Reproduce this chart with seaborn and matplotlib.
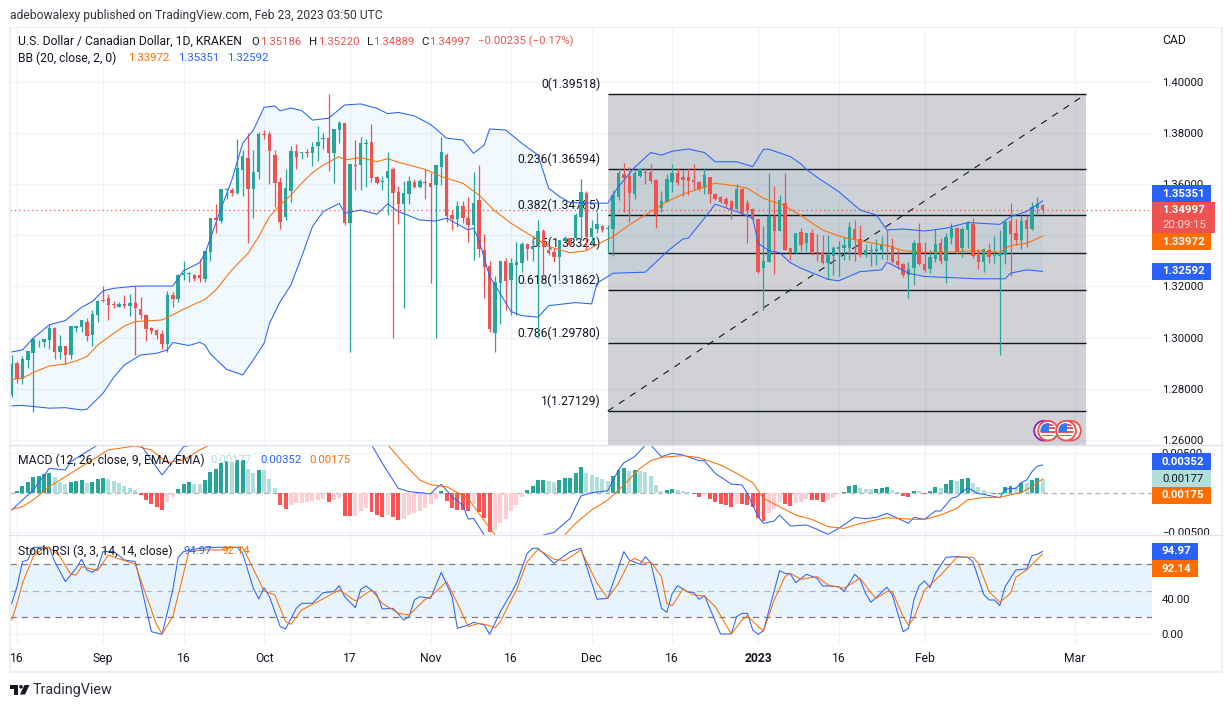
import numpy as np
import pandas as pd
import matplotlib
matplotlib.use("Agg")
import matplotlib.pyplot as plt
import seaborn as sns
from matplotlib.lines import Line2D
from matplotlib.patches import Rectangle, Circle, Polygon
from matplotlib.transforms import IdentityTransform

# Daily candles, first bar is 2022-08-15
start_date = "2022-08-15"
opens = [1.2776,1.2902,1.2839,1.2913,1.2941,1.2985,1.2983,1.2991,1.3038,1.2945,
1.2966,1.2932,1.3039,1.3042,1.3061,1.3011,1.3089,1.3147,1.3155,1.3132,
1.3121,1.3130,1.3125,1.3134,1.3112,1.3089,1.3038,1.3030,1.3014,1.2977,
1.3167,1.3153,1.3243,1.3250,1.3245,1.3245,1.3231,1.3336,1.3469,1.3456,
1.3578,1.3578,1.3566,1.3657,1.3703,1.3583,1.3648,1.3797,1.3797,1.3715,
1.3609,1.3473,1.3574,1.3730,1.3724,1.3727,1.3722,1.3750,1.3778,1.3781,
1.3724,1.3812,1.3840,1.3449,1.3675,1.3675,1.3759,1.3765,1.3628,1.3610,
1.3625,1.3660,1.3570,1.3523,1.3561,1.3610,1.3589,1.3609,1.3604,1.3597,
1.3667,1.3715,1.3480,1.3464,1.3515,1.3468,1.3441,1.3538,1.3343,1.3280,
1.3020,1.3215,1.3299,1.3226,1.3284,1.3292,1.3366,1.3347,1.3361,1.3417,
1.3343,1.3335,1.3316,1.3378,1.3389,1.3389,1.3472,1.3566,1.3392,1.3425,
1.3437,1.3424,1.3425,1.3549,1.3640,1.3632,1.3562,1.3632,1.3648,1.3648,
1.3617,1.3506,1.3531,1.3609,1.3644,1.3628,1.3628,1.3617,1.3609,1.3586,
1.3628,1.3562,1.3549,1.3541,1.3534,1.3503,1.3581,1.3527,1.3503,1.3464,
1.3273,1.3296,1.3476,1.3417,1.3527,1.3351,1.3331,1.3413,1.3369,1.3409,
1.3336,1.3335,1.3291,1.3319,1.3347,1.3351,1.3351,1.3425,1.3386,1.3323,
1.3339,1.3339,1.3343,1.3362,1.3359,1.3300,1.3288,1.3245,1.3273,1.3370,
1.3288,1.3269,1.3308,1.3370,1.3300,1.3390,1.3429,1.3351,1.3421,1.3445,
1.3323,1.3295,1.3343,1.3318,1.3319,1.3323,1.3456,1.3409,1.3382,1.3460,1.3424,1.3507,1.3519]
closes = [1.2897,1.2839,1.2915,1.2947,1.2994,1.2987,1.2994,1.3038,1.2945,1.2968,
1.2932,1.3044,1.3044,1.3069,1.3007,1.3093,1.3145,1.3144,1.3129,1.3128,
1.3132,1.3123,1.3134,1.3117,1.3089,1.3035,1.3026,1.3012,1.2977,1.3167,
1.3153,1.3245,1.3253,1.3253,1.3229,1.3233,1.3338,1.3468,1.3460,1.3581,
1.3581,1.3567,1.3664,1.3711,1.3583,1.3648,1.3797,1.3793,1.3728,1.3606,
1.3454,1.3584,1.3730,1.3707,1.3726,1.3724,1.3746,1.3765,1.3781,1.3724,
1.3815,1.3840,1.3447,1.3679,1.3673,1.3761,1.3763,1.3625,1.3605,1.3613,
1.3652,1.3566,1.3523,1.3566,1.3613,1.3591,1.3613,1.3606,1.3591,1.3674,
1.3726,1.3477,1.3463,1.3515,1.3468,1.3441,1.3527,1.3347,1.3278,1.3034,
1.3218,1.3299,1.3222,1.3292,1.3296,1.3366,1.3347,1.3359,1.3417,1.3353,
1.3331,1.3314,1.3381,1.3390,1.3363,1.3480,1.3570,1.3392,1.3428,1.3445,
1.3421,1.3429,1.3557,1.3644,1.3625,1.3565,1.3644,1.3660,1.3644,1.3613,
1.3480,1.3534,1.3621,1.3644,1.3605,1.3617,1.3613,1.3609,1.3582,1.3636,
1.3562,1.3542,1.3531,1.3523,1.3505,1.3581,1.3488,1.3501,1.3464,1.3257,
1.3300,1.3476,1.3417,1.3538,1.3343,1.3331,1.3409,1.3362,1.3409,1.3335,
1.3332,1.3292,1.3323,1.3351,1.3355,1.3362,1.3433,1.3386,1.3323,1.3343,
1.3343,1.3347,1.3366,1.3359,1.3296,1.3284,1.3245,1.3269,1.3370,1.3288,
1.3265,1.3316,1.3366,1.3300,1.3394,1.3429,1.3335,1.3425,1.3449,1.3319,
1.3296,1.3347,1.3316,1.3323,1.3331,1.3452,1.3405,1.3382,1.3456,1.3425,1.3511,1.3523,1.3500]
highs = [1.2932,1.2909,1.2928,1.2947,1.2998,1.2991,1.2994,1.3050,1.3043,1.3011,
1.2966,1.3044,1.3046,1.3069,1.3077,1.3108,1.3147,1.3202,1.3170,1.3144,
1.3138,1.3167,1.3170,1.3200,1.3158,1.3091,1.3040,1.3033,1.3030,1.3184,
1.3179,1.3249,1.3300,1.3258,1.3249,1.3306,1.3340,1.3468,1.3523,1.3581,
1.3584,1.3584,1.3777,1.3734,1.3799,1.3734,1.3804,1.3812,1.3808,1.3734,
1.3628,1.3660,1.3750,1.3757,1.3726,1.3737,1.3765,1.3828,1.3801,1.3952,
1.3816,1.3846,1.3840,1.3679,1.3773,1.3785,1.3777,1.3836,1.3632,1.3632,
1.3726,1.3668,1.3593,1.3613,1.3632,1.3619,1.3621,1.3658,1.3644,1.3675,
1.3785,1.3722,1.3499,1.3534,1.3534,1.3549,1.3648,1.3675,1.3405,1.3300,
1.3241,1.3299,1.3312,1.3312,1.3374,1.3374,1.3370,1.3398,1.3460,1.3425,
1.3362,1.3351,1.3382,1.3398,1.3391,1.3486,1.3621,1.3574,1.3460,1.3491,
1.3441,1.3441,1.3578,1.3664,1.3682,1.3668,1.3658,1.3664,1.3664,1.3679,
1.3622,1.3574,1.3640,1.3679,1.3662,1.3656,1.3664,1.3678,1.3613,1.3662,
1.3628,1.3566,1.3552,1.3550,1.3538,1.3601,1.3585,1.3538,1.3507,1.3464,
1.3437,1.3644,1.3593,1.3558,1.3644,1.3351,1.3409,1.3429,1.3409,1.3425,
1.3405,1.3402,1.3402,1.3359,1.3378,1.3394,1.3452,1.3460,1.3441,1.3366,
1.3366,1.3385,1.3398,1.3421,1.3390,1.3343,1.3292,1.3296,1.3382,1.3447,
1.3374,1.3343,1.3425,1.3390,1.3408,1.3449,1.3433,1.3434,1.3456,1.3468,
1.3347,1.3351,1.3370,1.3398,1.3421,1.3460,1.3527,1.3464,1.3480,1.3480,1.3531,1.3550,1.3522]
lows = [1.2769,1.2824,1.2819,1.2880,1.2711,1.2965,1.2965,1.2955,1.2918,1.2918,
1.2896,1.2915,1.3022,1.3021,1.2988,1.2969,1.3063,1.3141,1.3067,1.3117,
1.3119,1.3117,1.3085,1.2934,1.3074,1.2988,1.3014,1.2994,1.2957,1.2945,
1.3121,1.3141,1.3224,1.3219,1.3223,1.3219,1.3218,1.3300,1.3409,1.3450,
1.3544,1.3552,1.3562,1.3552,1.3372,1.3469,1.3621,1.3777,1.3601,1.3510,
1.3425,1.3460,1.3532,1.3660,1.3699,1.3707,1.3671,1.3691,1.3738,1.3652,
1.3605,1.3760,1.3439,1.2944,1.3578,1.3578,1.3589,1.3610,1.3601,1.3578,
1.3480,1.2999,1.3445,1.3116,1.3523,1.3587,1.3585,1.3544,1.3215,1.2999,
1.3597,1.3454,1.3421,1.3433,1.3447,1.3374,1.3304,1.3316,1.3154,1.3022,
1.2944,1.3054,1.3108,1.3089,1.3089,1.3257,1.3304,1.3300,1.2999,1.3237,
1.3323,1.3296,1.3226,1.3373,1.3360,1.3382,1.3382,1.3343,1.3362,1.3409,
1.3413,1.3330,1.3319,1.3538,1.3491,1.3452,1.3541,1.3628,1.3601,1.3605,
1.3429,1.3491,1.3531,1.3570,1.3597,1.3554,1.3558,1.3578,1.3574,1.3562,
1.3527,1.3538,1.3525,1.3510,1.3464,1.3503,1.3484,1.3370,1.3460,1.3253,
1.3108,1.3296,1.3249,1.3417,1.3343,1.3304,1.3327,1.3339,1.3339,1.3323,
1.3300,1.3288,1.3230,1.3245,1.3241,1.3304,1.3304,1.3300,1.3314,1.3314,
1.3280,1.3284,1.3308,1.3304,1.3292,1.3269,1.3239,1.3154,1.3206,1.3284,
1.3257,1.3253,1.3296,1.3288,1.3215,1.3366,1.3327,1.3316,1.3351,1.3312,
1.3269,1.3257,1.3292,1.3292,1.2932,1.3288,1.3241,1.3362,1.3347,1.3355,1.3421,1.3480,1.3489]

# Bollinger bands, read at the bars where the line bends
upper_days = [0,2,4,7,10,13,15,17,19,23,25,30,32,35,36,39,41,43,45,47,49,50,52,54,56,59,62,65,68,70,72,75,78,81,84,86,88,89,92,95,98,100,102,104,109,111,113,116,119,121,123,126,129,131,135,138,140,141,145,147,148,150,154,158,161,163,166,170,174,178,184,186,189,192]
upper_band = [1.2944,1.2952,1.2998,1.3050,1.3067,1.3119,1.3141,1.3183,1.3193,1.3201,1.3202,1.3202,1.3262,1.3293,1.3330,1.3506,1.3617,1.3760,1.3812,1.3901,1.3906,1.3887,1.3898,1.3888,1.3851,1.3858,1.3910,1.3914,1.3897,1.3876,1.3881,1.3867,1.3834,1.3780,1.3773,1.3721,1.3754,1.3816,1.3812,1.3760,1.3714,1.3584,1.3552,1.3528,1.3526,1.3526,1.3591,1.3666,1.3724,1.3714,1.3729,1.3738,1.3724,1.3688,1.3688,1.3669,1.3737,1.3737,1.3708,1.3679,1.3658,1.3627,1.3571,1.3499,1.3480,1.3421,1.3425,1.3417,1.3428,1.3450,1.3443,1.3473,1.3493,1.3535]
basis_days = [0,2,4,7,10,12,14,16,19,21,23,28,32,36,38,41,44,46,48,50,52,54,56,58,61,62,65,68,70,72,77,80,84,87,90,93,97,100,104,107,110,112,115,118,122,125,128,131,135,137,140,144,147,151,155,159,163,166,170,175,179,184,186,189,192]
basis_band = [1.2837,1.2841,1.2864,1.2889,1.2897,1.2909,1.2926,1.2971,1.3017,1.3046,1.3063,1.3069,1.3111,1.3150,1.3186,1.3265,1.3330,1.3395,1.3473,1.3519,1.3558,1.3604,1.3645,1.3675,1.3708,1.3695,1.3704,1.3688,1.3700,1.3686,1.3658,1.3630,1.3604,1.3558,1.3495,1.3447,1.3395,1.3356,1.3332,1.3340,1.3375,1.3395,1.3441,1.3480,1.3532,1.3561,1.3582,1.3604,1.3593,1.3584,1.3545,1.3515,1.3477,1.3421,1.3391,1.3375,1.3360,1.3340,1.3334,1.3335,1.3340,1.3334,1.3360,1.3369,1.3397]
lower_days = [0,2,7,10,13,14,17,19,21,24,27,29,30,33,35,36,37,40,43,45,47,48,50,52,54,56,58,61,62,65,68,70,72,76,79,81,85,86,87,89,93,95,98,100,105,108,109,112,118,122,125,126,129,131,135,138,139,141,143,145,147,152,154,158,162,163,167,170,180,185,186,189,192]
lower_band = [1.2733,1.2735,1.2724,1.2726,1.2717,1.2720,1.2782,1.2845,1.2893,1.2932,1.2939,1.2952,1.2981,1.2969,1.2982,1.2971,1.2936,1.2876,1.2854,1.2913,1.2978,1.3056,1.3141,1.3206,1.3317,1.3434,1.3493,1.3525,1.3486,1.3499,1.3482,1.3523,1.3493,1.3460,1.3456,1.3467,1.3421,1.3428,1.3382,1.3239,1.3102,1.3086,1.3080,1.3125,1.3137,1.3132,1.3213,1.3252,1.3256,1.3336,1.3386,1.3389,1.3467,1.3522,1.3493,1.3467,1.3369,1.3340,1.3332,1.3293,1.3271,1.3228,1.3222,1.3258,1.3265,1.3295,1.3252,1.3239,1.3230,1.3230,1.3252,1.3265,1.3259]

# Fibonacci retracement
fib_ratios = ["0", "0.236", "0.382", "0.5", "0.618", "0.786", "1"]
fib_prices = [1.39518, 1.36594, 1.34785, 1.33324, 1.31862, 1.29780, 1.27129]
fib_start_day = 111
fib_end_day = 200

# MACD values in 1e-5
macd_hist = [0,21,85,140,199,212,233,250,199,140,110,140,153,157,123,136,174,187,174,144,123,81,59,30,-30,-93,-148,-187,-220,-114,-59,42,114,136,114,106,161,263,301,382,407,386,411,416,301,246,288,284,170,59,-161,-212,-157,-127,-127,-114,-106,-93,-85,-119,-98,-72,-297,-301,-297,-233,-191,-246,-284,-305,-288,-305,-348,-331,-288,
-263,-233,-199,-148,-85,17,-106,-191,-220,-225,-233,-148,-246,-318,-500,-475,-382,-339,-233,-157,-59,34,85,161,162,144,136,157,187,188,250,326,246,220,204,170,148,212,288,314,271,288,280,263,212,98,17,34,47,34,17,8,-17,-51,-34,-76,-119,-144,-161,-182,-144,-148,-161,-187,-322,-365,-263,-212,-114,-148,-170,-136,-114,-85,-93,-98,-119,-93,-64,-21,8,85,98,59,47,47,51,59,72,34,13,-42,-55,25,21,-17,21,72,59,110,157,144,170,182,123,68,34,8,-17,-18,68,81,76,123,119,157,182,177]
macd_days = [0,1,4,7,10,11,13,16,19,22,24,26,28,30,32,34,36,40,50,60,66,67,69,72,74,76,77,78,79,80,82,84,85,86,88,90,93,99,101,104,106,108,111,113,114,116,118,119,121,123,125,128,129,131,134,136,137,139,140,142,143,145,148,150,152,154,157,159,161,163,165,167,168,170,172,173,175,176,178,180,181,184,185,187,188,189,190,191,192]
macd_line = [-220,-157,34,310,288,394,479,606,797,776,611,416,225,394,585,611,755,924,1009,924,712,611,373,55,13,0,-8,-17,55,106,-51,-157,-335,-326,-538,-729,-772,-538,-505,-326,-42,0,25,288,382,458,606,606,458,500,479,407,407,246,110,98,-8,-305,-390,-360,-284,-424,-411,-466,-530,-454,-314,-331,-314,-263,-326,-390,-314,-339,-233,-233,-72,-51,64,-13,-21,-64,47,55,127,161,267,339,352]
signal_days = [0,2,4,7,10,14,18,23,26,29,32,35,37,40,50,60,65,70,73,76,78,81,85,87,90,95,100,103,105,108,111,114,117,119,121,125,128,132,135,138,140,143,146,149,152,155,157,160,163,168,170,173,176,178,181,184,188,190,192]
signal_line = [-212,-178,-93,76,204,373,543,594,543,382,416,543,611,734,861,797,712,611,373,161,102,76,-72,-263,-538,-772,-644,-538,-390,-220,-93,98,310,407,449,471,445,352,246,127,-72,-178,-284,-339,-432,-454,-411,-360,-318,-339,-339,-284,-199,-93,-59,-59,4,76,175]

# Stoch RSI
k_days = [0,1,2,3,4,7,8,10,12,13,14,15,16,17,19,21,23,24,26,28,30,31,32,35,38,42,43,45,46,47,48,50,51,53,54,56,58,60,61,62,64,65,66,68,69,71,73,74,75,76,78,80,82,83,85,86,88,89,91,93,94,96,97,98,101,104,106,109,111,114,115,117,118,119,121,122,123,124,126,127,128,129,130,132,134,135,136,137,138,139,140,143,144,145,146,148,150,151,152,154,155,157,158,159,160,163,164,166,167,168,169,170,171,172,174,176,178,179,181,182,183,184,185,187,189,190,191,192]
stoch_k = [35.5,54.6,83.2,85.1,99.6,99.6,83.2,60.3,75.6,85.9,73.7,71,75.6,94.7,94.7,85.1,83.2,58.4,3,0,50.8,88.2,94.7,98.5,99.6,99.6,92.7,52.7,40.5,53.4,43.1,8.8,6.1,29.8,35.5,35.5,47.7,48.9,55.7,43.1,30.5,51.5,55.3,45.8,29,29.8,16.4,20.2,39.3,43.1,41.2,71,43.1,6.9,10.7,13.7,10.7,0,26,46.9,58.4,92.7,98.5,98.5,81.3,94.7,98.5,40.1,41.2,94.7,85.1,80.2,88.9,82.1,29.8,25.2,46.9,55.7,48.1,48.1,40.1,44.3,29.8,0.4,0.4,20.2,24,24,5,0,4.2,72.9,69.8,69.1,59.2,68.7,64.1,55.3,55.3,54.6,48.9,68.7,63,46.9,36.6,53.8,45,3,6.9,39.3,55.7,61.1,53.4,69.8,88.2,88.9,88.2,83.2,45.8,39.3,39.3,32.8,54.6,73.7,74.8,90.1,91.6,94.97]
d_days = [0,1,2,4,6,7,9,11,12,13,16,18,20,23,25,27,28,30,32,33,36,39,41,43,46,47,49,51,52,54,57,61,64,67,69,72,74,77,78,81,83,85,87,88,90,91,93,94,96,98,101,103,106,109,111,113,115,116,118,119,121,122,123,125,127,129,131,134,136,137,139,140,142,144,145,147,150,152,155,158,160,161,163,164,166,167,168,170,173,175,176,179,180,182,184,186,187,189,192]
stoch_d = [16.4,35.5,58.4,88.9,99.6,99.6,88.9,68.7,67.9,77.5,72.9,90.8,86.3,80.5,45,10.7,0.4,20.2,69.8,94.7,96.6,96.6,99.6,99.6,62.2,49.6,45,14.5,11.5,27.9,37.4,50.8,38.2,50.8,35.5,24,22.1,40.1,43.1,60.3,35.5,8.8,12.6,11.5,7.6,14.5,39.3,50.8,83.2,97.3,85.9,84.4,96.6,58.4,41.2,58.4,83.2,87,81.3,83.2,66,35.5,32.8,51.9,45,43.9,31.7,0.4,16.4,21.4,8.8,3.8,39.3,66,69.8,63,66,56.5,52.7,64.1,47.7,41.2,48.9,48.9,20.2,10.7,18.3,50.8,67.9,81.3,88.2,88.2,81.3,48.9,36.6,46.9,65.3,73.7,92.14]

# Axis ticks
tick_dates = ["2022-08-16","2022-09-01","2022-09-16","2022-10-01","2022-10-17","2022-11-01","2022-11-16","2022-12-01","2022-12-16","2023-01-01","2023-01-16","2023-02-01","2023-03-01"]
tick_labels = ["16","Sep","16","Oct","17","Nov","16","Dec","16","2023","16","Feb","Mar"]
price_ticks = [1.26, 1.28, 1.30, 1.32, 1.34, 1.36, 1.38, 1.40]

GREEN, RED = "#26a69a", "#ef5350"
BLUE, ORANGE = "#2962ff", "#ff6d00"
INK = "#131722"
GRID = "#f0f3fa"
FONT = 8.2
TEXT = 8.7
LINE = 0.75
W, H = 1232, 707

sns.set_theme(style="white", rc={"axes.edgecolor": GRID})
plt.rcParams["font.family"] = ["Roboto", "DejaVu Sans"]

fig = plt.figure(figsize=(W / 100, H / 100), dpi=100)
fig.patch.set_facecolor("white")


def pane(top, bottom):
    return fig.add_axes([10 / W, 1 - bottom / H, 1142 / W, (bottom - top) / H])


def label(x, y, s, color=INK, size=FONT, **kw):
    fig.text(x / W, 1 - y / H, s, color=color, fontsize=size, va="center", **kw)


def box(x0, y0, x1, y1, color, **kw):
    fig.add_artist(Rectangle((x0, H - y1), x1 - x0, y1 - y0, facecolor=color, edgecolor="none",
                             transform=IdentityTransform(), **kw))


def tag(x1, yc, s, color, text_color="white", half=8.5):
    box(1152, yc - half, x1, yc + half, color)
    label(1162, yc, s, text_color, weight="bold" if text_color == "white" else "normal")


ax_price = pane(28, 444.5)
ax_macd = pane(445, 535)
ax_stoch = pane(535, 644)

dates = pd.date_range(start_date, periods=len(closes))
tick_days = [(pd.Timestamp(d) - dates[0]).days for d in tick_dates]
days = np.arange(len(closes))

for ax in (ax_price, ax_macd, ax_stoch):
    ax.set_xlim(-0.32, 212.35)
    ax.set_xticks(tick_days)
    ax.set_xticklabels([])
    ax.yaxis.tick_right()
    ax.tick_params(length=0, labelsize=FONT, labelcolor=INK, pad=7)
    ax.grid(True, color=GRID, lw=1)
    ax.set_axisbelow(True)
    sns.despine(ax=ax, left=True, right=True, top=True, bottom=True)

# ----- price pane -----
ax_price.set_ylim(1.2582, 1.4211)
ax_price.set_yticks(price_ticks)
# 1.34000 sits behind the price tags in the reference
ax_price.set_yticklabels(["" if p == 1.34 else f"{p:.5f}" for p in price_ticks])

ax_price.add_patch(Rectangle((fib_start_day, 1.2), fib_end_day - fib_start_day, fib_prices[0] - 1.2,
                             facecolor="#787b86", alpha=0.34, edgecolor="none", zorder=1))
ax_price.fill(np.r_[upper_days, lower_days[::-1]], np.r_[upper_band, lower_band[::-1]],
              color="#2196f3", alpha=0.06, lw=0, zorder=1.2)
ax_price.hlines(fib_prices, fib_start_day, fib_end_day, color="#131722", lw=1, zorder=1.4)
ax_price.plot([fib_start_day, fib_end_day], [fib_prices[-1], fib_prices[0]], color="#131722", lw=0.8,
              ls=(0, (6, 6)), zorder=1.4)
for ratio, price in zip(fib_ratios, fib_prices):
    ax_price.annotate(f"{ratio}({price:.5f})", (109.6, price), xytext=(0, 2.2), textcoords="offset points",
                      ha="right", va="bottom", fontsize=TEXT, color=INK, zorder=1.5)

candle_colors = [GREEN if c >= o else RED for o, c in zip(opens, closes)]
ax_price.vlines(days, lows, highs, colors=candle_colors, lw=0.9, zorder=3)
ax_price.bar(days, np.abs(np.subtract(closes, opens)), bottom=np.minimum(opens, closes), width=0.64,
             color=candle_colors, lw=0, zorder=3.1)

sns.lineplot(x=upper_days, y=upper_band, ax=ax_price, color=BLUE, lw=LINE, estimator=None, sort=False, legend=False, zorder=4)
sns.lineplot(x=lower_days, y=lower_band, ax=ax_price, color=BLUE, lw=LINE, estimator=None, sort=False, legend=False, zorder=4)
sns.lineplot(x=basis_days, y=basis_band, ax=ax_price, color=ORANGE, lw=LINE, estimator=None, sort=False, legend=False, zorder=4)
ax_price.axhline(closes[-1], color=RED, lw=0.9, ls=(0, (1, 2.5)), zorder=4)

# ----- MACD pane -----
ax_macd.set_ylim(-538, 606)
ax_macd.set_yticks([-500, 500])
ax_macd.set_yticklabels(["\u22120.00500", "0.00500"])
ax_macd.axhline(0, color="#b2b5be", lw=0.9, ls=(0, (4, 3)), zorder=1)

hist_colors = []
prev = 0
for h in macd_hist:
    if h >= 0:
        hist_colors.append("#26a69a" if h > prev else "#b2dfdb")
    else:
        hist_colors.append("#ff5252" if h < prev else "#ffcdd2")
    prev = h
ax_macd.bar(days, macd_hist, width=0.74, color=hist_colors, lw=0, zorder=2)
sns.lineplot(x=macd_days, y=macd_line, ax=ax_macd, color=BLUE, lw=LINE, estimator=None, sort=False, legend=False, zorder=4)
sns.lineplot(x=signal_days, y=signal_line, ax=ax_macd, color=ORANGE, lw=LINE, estimator=None, sort=False, legend=False, zorder=4)

# ----- Stoch RSI pane -----
ax_stoch.set_ylim(-11.1, 113.7)
ax_stoch.set_yticks([0, 40])
ax_stoch.set_yticklabels(["0.00", "40.00"])
ax_stoch.axhspan(20, 80, color="#2196f3", alpha=0.1, lw=0, zorder=0.5)
ax_stoch.axhline(80, color="#787b86", lw=0.9, ls=(0, (5, 4)), zorder=1)
ax_stoch.axhline(50, color="#b2b5be", lw=0.9, ls=(0, (5, 4)), zorder=1)
ax_stoch.axhline(20, color="#787b86", lw=0.9, ls=(0, (5, 4)), zorder=1)
sns.lineplot(x=k_days, y=stoch_k, ax=ax_stoch, color=BLUE, lw=LINE, estimator=None, sort=False, legend=False, zorder=4)
sns.lineplot(x=d_days, y=stoch_d, ax=ax_stoch, color=ORANGE, lw=LINE, estimator=None, sort=False, legend=False, zorder=4)
ax_stoch.set_xticklabels(tick_labels)
ax_stoch.tick_params(axis="x", pad=6, labelsize=TEXT)
for t, s in zip(ax_stoch.get_xticklabels(), tick_labels):
    if s == "2023":
        t.set_fontweight("bold")

for ax in (ax_price, ax_macd, ax_stoch):
    ax.set_xlabel("")
    ax.set_ylabel("")

# ----- frame and pane separators -----
BORDER = "#e0e3eb"
for y in (444.7, 535):
    fig.add_artist(Line2D([10 / W, 1222 / W], [1 - y / H, 1 - y / H], color=BORDER, lw=1))
box(9, 26.5, 1223, 28, "#eceef3")
box(9, 671, 1223, 673, "#eceef3")
box(9, 27, 11, 672, "#eceef3")
box(1221, 27, 1223, 672, "#eceef3")

# ----- header text -----
label(10, 15, "adebowalexy published on TradingView.com, Feb 23, 2023 03:50 UTC", "#333740", size=TEXT)
label(18.3, 41.7, "U.S. Dollar / Canadian Dollar, 1D, KRAKEN", size=TEXT)
for x, s, c in [(251.7, "O", INK), (260, "1.35186", RED), (309.3, "H", INK), (318.3, "1.35220", RED),
                (366.7, "L", INK), (373.3, "1.34889", RED), (421.7, "C", INK), (429.3, "1.34997", RED),
                (478.3, "\u22120.00235 (\u22120.17%)", RED)]:
    label(x, 41.7, s, c)
label(18.3, 58.3, "BB (20, close, 2, 0)", size=TEXT)
label(128.3, 58.3, "1.33972", ORANGE)
label(178, 58.3, "1.35351", BLUE)
label(227.3, 58.3, "1.32592", BLUE)
label(18, 460, "MACD (12, 26, close, 9, EMA, EMA)", size=TEXT)
label(210.7, 460, "0.00177", "#b2dfdb")
label(260, 460, "0.00352", BLUE)
label(309, 460, "0.00175", ORANGE)
label(18, 551, "Stoch RSI (3, 3, 14, 14, close)", size=TEXT)
label(184, 551, "94.97", BLUE)
label(221, 551, "92.14", ORANGE)
label(1162, 40, "CAD", size=TEXT)

# ----- price scale tags -----
tag(1211, 193.6, "1.35351", BLUE)
box(1152, 202, 1215, 233, RED)
label(1162, 210, "1.34997", "white", weight="bold")
label(1162, 224.5, "20:09:15", "#ffd5d3")
tag(1211, 241.5, "1.33972", ORANGE)
tag(1211, 271.5, "1.32592", BLUE)
tag(1211, 461.7, "0.00352", BLUE)
tag(1211, 478.7, "0.00177", "#b2dfdb", INK)
tag(1211, 495.5, "0.00175", ORANGE)
tag(1198, 551.5, "94.97", BLUE)
tag(1198, 568.5, "92.14", ORANGE)

# ----- event flags -----
for cx, ring in [(1044, "#9c27b0"), (1071, RED), (1048, RED), (1066, RED)]:
    fig.add_artist(Circle((cx, H - 430.7), 9.8, facecolor="white", edgecolor=ring, lw=1.4,
                          transform=IdentityTransform()))
for cx in (1048, 1066):
    disc = Circle((cx, H - 430.7), 7.6, transform=IdentityTransform())
    for k in range(4):
        s = Rectangle((cx - 8, H - 425.5 - 3.6 * k), 16, 1.8, facecolor=RED, edgecolor="none", transform=IdentityTransform())
        fig.add_artist(s)
        s.set_clip_path(disc)
    s = Rectangle((cx - 8, H - 432), 8.5, 9, facecolor="#3179f5", edgecolor="none", transform=IdentityTransform())
    fig.add_artist(s)
    s.set_clip_path(disc)

# ----- footer logo -----
box(10, 685, 18, 688.5, INK)
box(14, 688.5, 18, 694.5, INK)
fig.add_artist(Circle((21, H - 686.8), 1.8, facecolor=INK, edgecolor="none", transform=IdentityTransform()))
fig.add_artist(Polygon([(24.5, H - 685), (29.5, H - 685), (25, H - 694.5), (20, H - 694.5)], facecolor=INK,
                       edgecolor="none", transform=IdentityTransform()))
label(33, 690, "TradingView", "#2a2e39", size=10.4)

fig.savefig("out.png", dpi=100, facecolor="white")
